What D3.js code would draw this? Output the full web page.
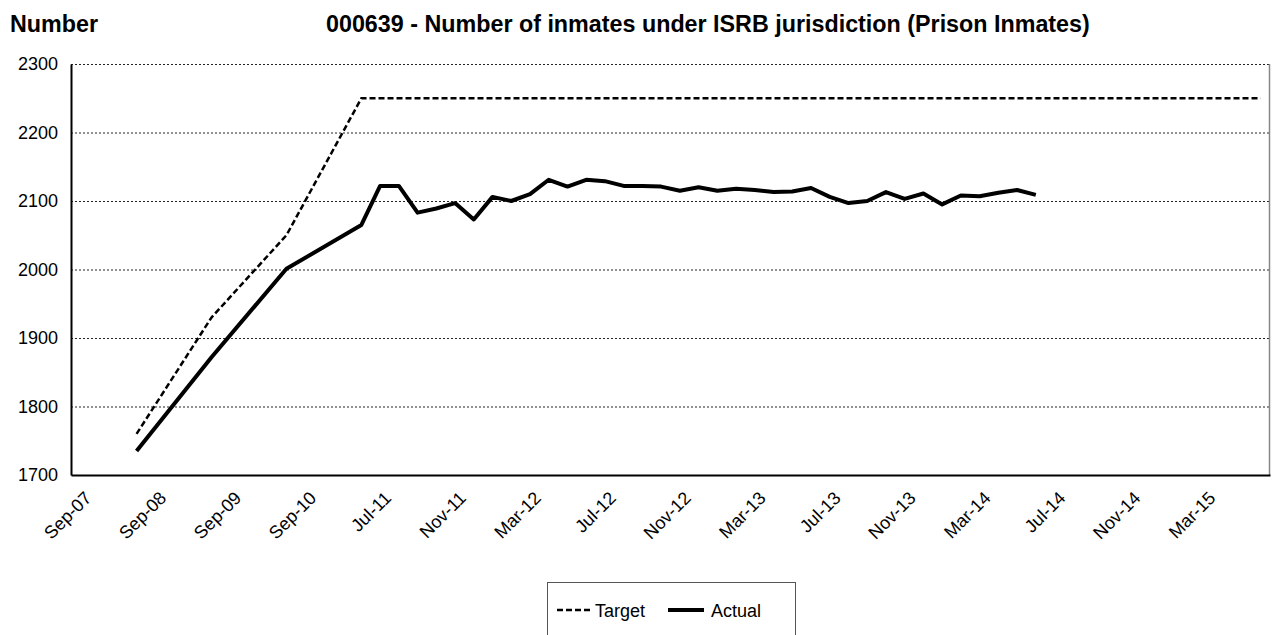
<!DOCTYPE html>
<html>
<head>
<meta charset="utf-8">
<script src="https://cdn.jsdelivr.net/npm/d3@7"></script>
<style>
  body { margin: 0; background: #fff; }
  svg { font-family: "Liberation Sans", Arial, sans-serif; }
</style>
</head>
<body>
<svg id="chart" width="1277" height="635"></svg>
<script>
// quarterly categories up to Jun-11, then monthly to Jun-15
const categories = [
    "Sep-07", "Dec-07", "Mar-08", "Jun-08", "Sep-08", "Dec-08", "Mar-09", "Jun-09",
    "Sep-09", "Dec-09", "Mar-10", "Jun-10", "Sep-10", "Dec-10", "Mar-11", "Jun-11",
    "Jul-11", "Aug-11", "Sep-11", "Oct-11", "Nov-11", "Dec-11", "Jan-12", "Feb-12",
    "Mar-12", "Apr-12", "May-12", "Jun-12", "Jul-12", "Aug-12", "Sep-12", "Oct-12",
    "Nov-12", "Dec-12", "Jan-13", "Feb-13", "Mar-13", "Apr-13", "May-13", "Jun-13",
    "Jul-13", "Aug-13", "Sep-13", "Oct-13", "Nov-13", "Dec-13", "Jan-14", "Feb-14",
    "Mar-14", "Apr-14", "May-14", "Jun-14", "Jul-14", "Aug-14", "Sep-14", "Oct-14",
    "Nov-14", "Dec-14", "Jan-15", "Feb-15", "Mar-15", "Apr-15", "May-15", "Jun-15"
];

const target = [
    null, null, null, 1760, null, null, null, 1930,
    null, null, null, 2050, null, null, null, 2250,
    2250, 2250, 2250, 2250, 2250, 2250, 2250, 2250,
    2250, 2250, 2250, 2250, 2250, 2250, 2250, 2250,
    2250, 2250, 2250, 2250, 2250, 2250, 2250, 2250,
    2250, 2250, 2250, 2250, 2250, 2250, 2250, 2250,
    2250, 2250, 2250, 2250, 2250, 2250, 2250, 2250,
    2250, 2250, 2250, 2250, 2250, 2250, 2250, 2250
];

const actual = [
    null, null, null, 1735, null, null, null, 1872,
    null, null, null, 2001, null, null, null, 2065,
    2122, 2122, 2083, 2089, 2097, 2073, 2106, 2100,
    2110, 2131, 2121, 2131, 2129, 2122, 2122, 2121,
    2115, 2120, 2115, 2118, 2116, 2113, 2114, 2119,
    2106, 2097, 2100, 2113, 2103, 2111, 2095, 2108,
    2107, 2112, 2116, 2109
];

const yTicks = [1700, 1800, 1900, 2000, 2100, 2200, 2300];
const labelEvery = 4;

const titleLeft = "Number";
const title = "000639 - Number of inmates under ISRB jurisdiction (Prison Inmates)";

const svg = d3.select("#chart");
const plot = { left: 71, top: 64, right: 1270, bottom: 475 };
const fontSize = 18;

const x = d3.scaleBand()
    .domain(categories)
    .range([plot.left, plot.right]);

const y = d3.scaleLinear()
    .domain([1700, 2300])
    .range([plot.bottom, plot.top]);

// titles
svg.append("text")
    .attr("x", 10).attr("y", 32)
    .attr("font-size", 23.3).attr("font-weight", "bold")
    .text(titleLeft);
svg.append("text")
    .attr("x", 326).attr("y", 32)
    .attr("font-size", 23.3).attr("font-weight", "bold")
    .text(title);

// gridlines
svg.append("g")
    .selectAll("line")
    .data(yTicks.filter(d => d > 1700))
    .join("line")
    .attr("x1", plot.left).attr("x2", plot.right)
    .attr("y1", d => y(d) + 0.5).attr("y2", d => y(d) + 0.5)
    .attr("stroke", "#222")
    .attr("stroke-width", 1)
    .attr("stroke-dasharray", "2,2");

// right border
svg.append("line")
    .attr("x1", plot.right - 0.5).attr("x2", plot.right - 0.5)
    .attr("y1", plot.top).attr("y2", plot.bottom)
    .attr("stroke", "#888").attr("stroke-width", 1.5);

// y axis
const yAxis = svg.append("g")
    .attr("transform", `translate(${plot.left},0)`)
    .call(d3.axisLeft(y).tickValues(yTicks).tickSize(0).tickPadding(13).tickFormat(d3.format("d")));
yAxis.select(".domain").attr("stroke", "#000").attr("stroke-width", 2);
yAxis.selectAll("text")
    .attr("font-size", fontSize)
    .attr("font-family", "Liberation Sans, Arial, sans-serif")
    .attr("fill", "#000");

// x axis
const xAxis = svg.append("g")
    .attr("transform", `translate(0,${plot.bottom})`)
    .call(d3.axisBottom(x)
        .tickValues(categories.filter((d, i) => i % labelEvery == 0))
        .tickSize(0)
        .tickSizeOuter(0));
xAxis.select(".domain").attr("stroke", "#000").attr("stroke-width", 2);
xAxis.selectAll("text")
    .attr("font-size", fontSize)
    .attr("font-family", "Liberation Sans, Arial, sans-serif")
    .attr("fill", "#000")
    .attr("text-anchor", "end")
    .attr("dy", 0)
    .attr("transform", "translate(10,22) rotate(-45)");

// series
const line = d3.line()
    .x(d => x(d.cat) + x.bandwidth() / 2)
    .y(d => y(d.value));

const toPoints = vals => vals
    .map((v, i) => ({ cat: categories[i], value: v }))
    .filter(d => d.value != null);

svg.append("path")
    .datum(toPoints(target))
    .attr("d", line)
    .attr("fill", "none")
    .attr("stroke", "#000")
    .attr("stroke-width", 2.5)
    .attr("stroke-dasharray", "6,3");

svg.append("path")
    .datum(toPoints(actual))
    .attr("d", line)
    .attr("fill", "none")
    .attr("stroke", "#000")
    .attr("stroke-width", 4)
    .attr("stroke-linejoin", "round");

// legend
const legend = svg.append("g");
legend.append("rect")
    .attr("x", 547.5).attr("y", 582.5)
    .attr("width", 248).attr("height", 70)
    .attr("fill", "#fff")
    .attr("stroke", "#555").attr("stroke-width", 1);

legend.append("line")
    .attr("x1", 557).attr("x2", 592).attr("y1", 610).attr("y2", 610)
    .attr("stroke", "#000").attr("stroke-width", 2.5).attr("stroke-dasharray", "6,3");
legend.append("text")
    .attr("x", 595).attr("y", 617).attr("font-size", fontSize).text("Target");

legend.append("line")
    .attr("x1", 668).attr("x2", 704).attr("y1", 610).attr("y2", 610)
    .attr("stroke", "#000").attr("stroke-width", 4);
legend.append("text")
    .attr("x", 711).attr("y", 617).attr("font-size", fontSize).text("Actual");
</script>
</body>
</html>
